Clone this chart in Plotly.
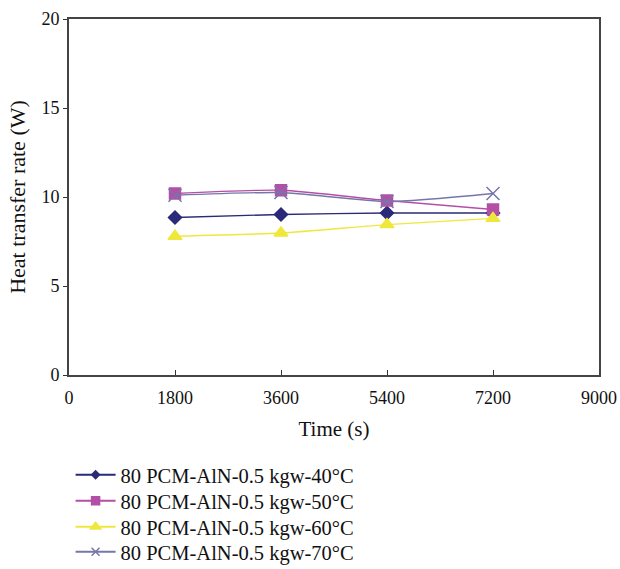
import plotly.graph_objects as go

time_s = [1800, 3600, 5400, 7200]
q_40 = [8.85, 9.02, 9.1, 9.1]
q_50 = [10.2, 10.38, 9.8, 9.3]
q_60 = [7.8, 7.98, 8.45, 8.8]
q_70 = [10.1, 10.25, 9.75, 10.2]

names = ["80 PCM-AlN-0.5 kgw-40°C", "80 PCM-AlN-0.5 kgw-50°C",
         "80 PCM-AlN-0.5 kgw-60°C", "80 PCM-AlN-0.5 kgw-70°C"]
series = [q_40, q_50, q_60, q_70]
colors = ["#2B2A78", "#B44FA6", "#EFE83C", "#7676AA"]
symbols = ["diamond", "square", "triangle-up", "x-thin-open"]
sizes = [10, 11, 12, 13]
leg_sizes = [6, 8, 9, 8]
legend_ids = ["legend", "legend2", "legend3", "legend4"]
legend_tops = [-0.2247, -0.2978, -0.3708, -0.4410]

fig = go.Figure()
for n, y, c, s, sz in zip(names, series, colors, symbols, sizes):
    fig.add_trace(go.Scatter(
        x=time_s, y=y, name=n, mode="lines+markers", showlegend=False,
        line=dict(color=c, width=1.4, shape="spline", smoothing=0.6),
        marker=dict(symbol=s, size=sz, color=c, line=dict(color=c, width=1.5)),
    ))
for n, c, s, sz, lid in zip(names, colors, symbols, leg_sizes, legend_ids):
    fig.add_trace(go.Scatter(
        x=[None], y=[None], name=n, mode="lines+markers", legend=lid,
        line=dict(color=c, width=2),
        marker=dict(symbol=s, size=sz, color=c, line=dict(color=c, width=1.5)),
    ))

font = "Liberation Serif, Times New Roman, serif"
leg_layout = {}
for lid, top in zip(legend_ids, legend_tops):
    leg_layout[lid] = dict(x=0.003, y=top, xanchor="left", yanchor="top",
                           font=dict(family=font, size=20.5, color="#111"),
                           itemwidth=40, bgcolor="rgba(0,0,0,0)")

fig.update_layout(
    width=620, height=569,
    margin=dict(l=69, r=21, t=19, b=194, autoexpand=False),
    paper_bgcolor="white", plot_bgcolor="white",
    font=dict(family=font, size=18, color="#111"),
    showlegend=True,
    xaxis=dict(range=[0, 9000], tickvals=[0, 1800, 3600, 5400, 7200, 9000],
               ticks="inside", ticklen=5, tickcolor="#333",
               showline=True, linecolor="#444", linewidth=2, mirror=True,
               showgrid=False, zeroline=False, automargin=False,
               tickfont=dict(size=18), ticklabelstandoff=5,
               title=dict(text="Time (s)", standoff=15, font=dict(size=21))),
    yaxis=dict(range=[0, 20], tickvals=[0, 5, 10, 15, 20],
               ticks="outside", ticklen=4, tickcolor="#333",
               showline=True, linecolor="#444", linewidth=2, mirror=True,
               showgrid=False, zeroline=False, automargin=False,
               tickfont=dict(size=18),
               title=dict(text="Heat transfer rate (W)", standoff=10, font=dict(size=22))),
    **leg_layout,
)
fig.write_html("out.html", config={"displayModeBar": False},
               post_script="document.body.style.margin='0';document.body.style.padding='0';")
